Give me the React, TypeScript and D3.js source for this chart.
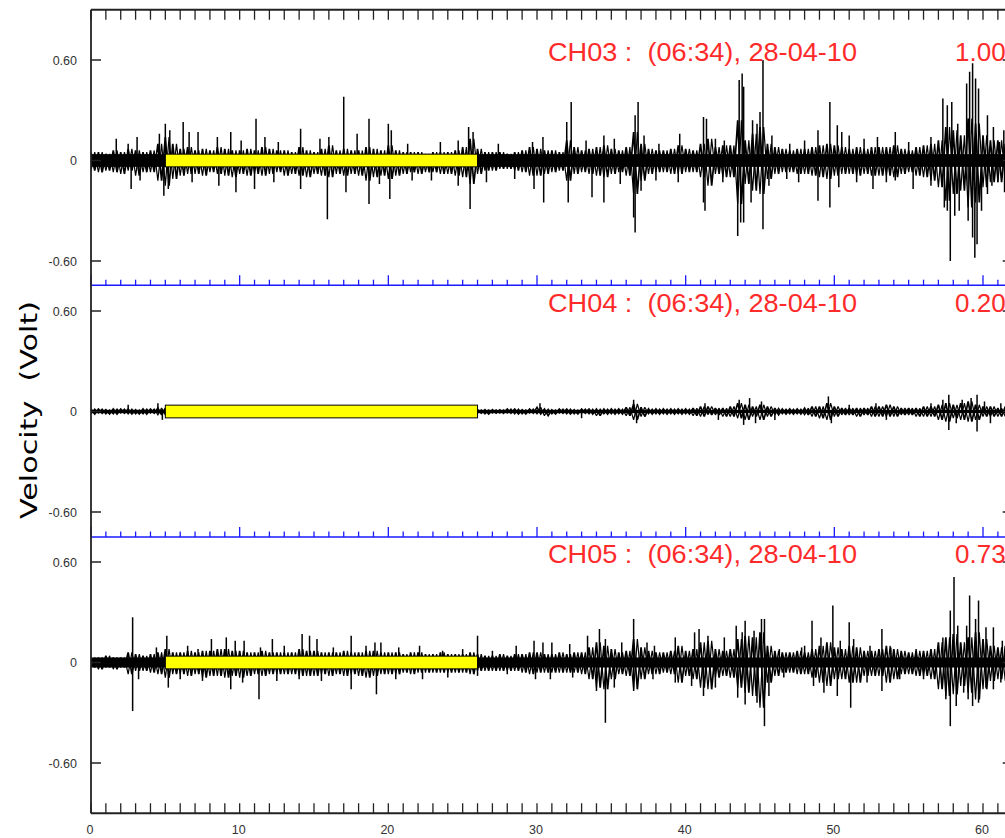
import React from 'react';
import * as d3 from 'd3';

// ---------- DATA ----------
// time axis (seconds), bins every 0.5 s from 0 to 61.5
const T_STEP = 0.5;
const xTicks = [0, 10, 20, 30, 40, 50, 60];
const yTickValues = [0.6, 0, -0.6];
const yTickLabels = ['0.60', '0', '-0.60'];
const channelNames = ['CH03 :  (06:34), 28-04-10', 'CH04 :  (06:34), 28-04-10', 'CH05 :  (06:34), 28-04-10'];
const channelScales = ['1.00', '0.20', '0.73'];
const windowStart = 5;
const windowEnd = 26;
const windowHalf = 0.038;
// solid noise floor half-height per channel (volts)
const noiseFloor = [0.038, 0.01, 0.03];

// dense core envelope (hundredths of a volt): upper and lower half-heights
const ch03Up = [
  5, 5, 4, 6, 5, 7, 6, 5, 6, 10,
  14, 10, 7, 8, 6, 7, 6, 8, 7, 6,
  6, 7, 6, 8, 7, 6, 6, 5, 8, 6,
  5, 7, 9, 6, 7, 6, 6, 8, 7, 6,
  9, 6, 5, 5, 5, 4, 5, 5, 5, 6,
  8, 13, 7, 5, 5, 5, 4, 5, 6, 8,
  7, 6, 6, 5, 12, 8, 6, 7, 8, 9,
  7, 6, 8, 17, 10, 7, 6, 6, 7, 9,
  7, 6, 10, 13, 8, 9, 9, 24, 12, 16,
  20, 10, 8, 7, 6, 7, 7, 8, 9, 10,
  9, 8, 7, 8, 7, 8, 8, 8, 9, 7,
  6, 8, 9, 10, 12, 20, 18, 15, 25, 22,
  15, 12, 12, 10,
];
const ch03Dn = [
  6, 7, 6, 7, 8, 6, 9, 7, 7, 12,
  15, 11, 9, 8, 8, 9, 7, 8, 9, 10,
  8, 9, 8, 9, 8, 7, 9, 8, 9, 10,
  8, 9, 10, 8, 9, 8, 9, 12, 10, 9,
  11, 9, 8, 7, 8, 7, 7, 8, 8, 9,
  10, 14, 8, 6, 6, 5, 5, 6, 7, 9,
  9, 8, 7, 6, 12, 8, 7, 8, 9, 10,
  8, 7, 9, 20, 12, 8, 7, 7, 8, 8,
  7, 7, 10, 15, 8, 10, 10, 26, 14, 18,
  20, 11, 8, 7, 7, 8, 8, 9, 10, 11,
  9, 8, 8, 9, 8, 9, 9, 9, 10, 8,
  7, 9, 10, 12, 16, 24, 20, 18, 28, 25,
  16, 13, 13, 11,
];
// isolated spikes [time s, volts]
const ch03Spikes = [
  [1.7, 0.13], [2.5, 0.1], [3.1, 0.14], [4.6, 0.16], [5.0, 0.22], [5.3, 0.18], [6.2, 0.23], [6.6, 0.17],
  [7.2, 0.17], [8.5, 0.14], [9.4, 0.17], [10.1, 0.12], [11.1, 0.25], [11.7, 0.14], [12.6, 0.11], [14.1, 0.19],
  [15.4, 0.13], [16.0, 0.14], [17.0, 0.38], [17.9, 0.16], [18.7, 0.25], [20.0, 0.22], [20.2, 0.18], [21.3, 0.1],
  [23.5, 0.11], [24.7, 0.12], [25.4, 0.2], [25.7, 0.17], [27.4, 0.1], [29.7, 0.11], [30.4, 0.14], [32.0, 0.23],
  [32.3, 0.35], [33.3, 0.12], [34.5, 0.15], [35.2, 0.13], [36.6, 0.27], [36.8, 0.35], [37.2, 0.15], [38.2, 0.1],
  [39.6, 0.16], [41.2, 0.26], [41.4, 0.25], [42.0, 0.13], [42.6, 0.12], [43.6, 0.48], [43.8, 0.52], [43.9, 0.44],
  [44.5, 0.24], [44.8, 0.22], [45.0, 0.29], [45.2, 0.6], [45.8, 0.15], [47.0, 0.1], [48.0, 0.12], [48.9, 0.18],
  [49.7, 0.35], [50.2, 0.21], [50.5, 0.17], [51.0, 0.15], [52.0, 0.13], [52.9, 0.14], [54.1, 0.17], [55.0, 0.11],
  [56.5, 0.14], [57.3, 0.37], [57.6, 0.33], [57.9, 0.35], [58.3, 0.22], [58.9, 0.46], [59.1, 0.53], [59.3, 0.58],
  [59.5, 0.49], [59.7, 0.43], [60.3, 0.27], [60.7, 0.2], [61.1, 0.11], [61.4, 0.18],
  [2.7, -0.17], [3.3, -0.12], [4.9, -0.21], [5.2, -0.17], [6.8, -0.13], [8.6, -0.15], [9.75, -0.19], [11.0, -0.17],
  [12.3, -0.13], [14.1, -0.17], [15.9, -0.35], [17.15, -0.19], [18.7, -0.26], [19.4, -0.14], [20.1, -0.23], [21.6, -0.12],
  [22.9, -0.12], [24.7, -0.15], [25.5, -0.29], [26.6, -0.13], [28.5, -0.11], [29.8, -0.17], [30.45, -0.25], [32.1, -0.25],
  [33.7, -0.22], [34.5, -0.25], [35.6, -0.14], [36.5, -0.34], [36.6, -0.43], [37.0, -0.18], [38.0, -0.12], [39.5, -0.13],
  [41.2, -0.25], [41.3, -0.3], [42.5, -0.13], [43.5, -0.45], [43.7, -0.37], [43.9, -0.37], [44.4, -0.25], [45.2, -0.41],
  [45.6, -0.15], [46.8, -0.11], [47.6, -0.13], [48.9, -0.24], [49.7, -0.28], [50.3, -0.16], [51.5, -0.13], [52.6, -0.17],
  [53.5, -0.13], [54.1, -0.12], [55.3, -0.17], [56.5, -0.15], [57.4, -0.28], [57.6, -0.3], [57.8, -0.6], [58.1, -0.33],
  [58.4, -0.3], [59.0, -0.36], [59.3, -0.46], [59.45, -0.58], [59.6, -0.5], [59.9, -0.3], [60.3, -0.2], [60.6, -0.15],
  [61.0, -0.13], [61.45, -0.19],
];

const ch04Up = [
  1.5, 1.5, 1, 1.5, 1.5, 1.5, 1, 1.5, 1.5, 2,
  2, 2, 2, 2, 2, 2, 2, 2, 2, 2,
  2, 2, 2, 2, 2, 2, 2, 2, 2, 2,
  2, 2, 2, 2, 2, 2, 2, 2, 2, 2,
  2, 2, 2, 2, 2, 2, 2, 2, 2, 2,
  2, 1.5, 1, 1, 1, 1, 1.5, 1.5, 1, 1.5,
  2.5, 1.5, 1, 1.5, 1.5, 1, 1.5, 1.5, 1.5, 1.5,
  1.5, 1.5, 2.5, 4.5, 2.5, 1.5, 1.5, 1.5, 1.5, 1.5,
  1.5, 2, 3, 3, 2, 2, 3, 5, 4, 3,
  4, 3, 2, 1.5, 1.5, 1.5, 2, 3, 3, 5,
  3, 2, 2, 2, 2, 3, 3, 4, 3, 2,
  2, 2, 3, 3, 4, 5, 4, 5, 6, 4,
  3, 3, 2, 3,
];
const ch04Dn = [
  1.5, 1, 1.5, 1.5, 1, 1.5, 1.5, 1.5, 1, 2,
  2, 2, 2, 2, 2, 2, 2, 2, 2, 2,
  2, 2, 2, 2, 2, 2, 2, 2, 2, 2,
  2, 2, 2, 2, 2, 2, 2, 2, 2, 2,
  2, 2, 2, 2, 2, 2, 2, 2, 2, 2,
  2, 1.5, 1, 1.5, 1, 1, 1, 1.5, 1.5, 1,
  1.5, 2.5, 1.5, 1, 1.5, 1.5, 1, 1.5, 2.5, 1.5,
  1.5, 1.5, 2.5, 5, 3, 1.5, 1.5, 1.5, 1.5, 1.5,
  1.5, 2.5, 3, 2, 2, 3, 3, 4, 5, 3,
  5, 3, 2, 1.5, 1.5, 1.5, 2, 3, 4, 5,
  3, 2, 2, 3, 2, 3, 3, 3, 3, 2,
  2, 3, 3, 3, 5, 6, 4, 5, 6, 5,
  3, 3, 3, 3,
];
const ch04Spikes = [
  [2.5, 0.04], [4.5, 0.05], [4.8, -0.05], [30.2, 0.05], [33.0, -0.04], [36.5, 0.07], [36.7, -0.07], [41.3, 0.05],
  [42.2, -0.05], [43.6, 0.07], [43.9, -0.08], [44.3, 0.08], [44.7, -0.07], [45.1, 0.06], [46.0, -0.05], [49.6, 0.09],
  [49.8, -0.07], [51.0, 0.04], [52.8, 0.05], [53.5, -0.05], [56.5, 0.05], [57.3, 0.07], [57.7, 0.1], [57.7, -0.11],
  [58.2, -0.07], [58.6, 0.07], [59.2, 0.08], [59.6, 0.1], [59.6, -0.12], [60.1, 0.06], [60.5, -0.07], [61.2, 0.05],
];

const ch05Up = [
  3, 3, 4, 3, 3, 6, 5, 4, 5, 6,
  8, 6, 6, 7, 6, 7, 7, 8, 8, 7,
  7, 6, 6, 7, 6, 6, 6, 6, 8, 7,
  7, 6, 6, 6, 7, 6, 6, 7, 7, 6,
  6, 6, 5, 6, 6, 5, 5, 6, 5, 5,
  5, 6, 5, 4, 4, 5, 4, 5, 5, 6,
  6, 5, 5, 6, 5, 6, 6, 9, 12, 10,
  8, 6, 7, 14, 9, 7, 6, 6, 7, 10,
  7, 8, 12, 13, 8, 7, 8, 14, 16, 15,
  18, 10, 7, 6, 6, 7, 6, 8, 10, 12,
  9, 8, 10, 9, 7, 7, 8, 10, 8, 7,
  6, 7, 7, 8, 12, 15, 17, 12, 15, 18,
  14, 10, 9, 10,
];
const ch05Dn = [
  3, 4, 3, 4, 3, 7, 5, 5, 6, 7,
  9, 7, 7, 8, 7, 9, 8, 8, 9, 8,
  9, 8, 7, 8, 7, 7, 7, 7, 8, 8,
  8, 7, 8, 7, 8, 7, 8, 9, 8, 7,
  7, 7, 6, 7, 6, 6, 6, 6, 6, 6,
  6, 7, 5, 5, 5, 5, 5, 5, 6, 7,
  6, 6, 6, 6, 6, 6, 7, 10, 15, 16,
  10, 7, 8, 16, 10, 7, 7, 6, 7, 12,
  8, 10, 15, 16, 9, 8, 9, 15, 18, 20,
  27, 12, 8, 6, 6, 7, 7, 9, 12, 14,
  10, 10, 12, 12, 8, 8, 8, 12, 10, 7,
  7, 8, 8, 10, 16, 20, 19, 14, 18, 22,
  16, 11, 10, 11,
];
const ch05Spikes = [
  [2.8, 0.27], [4.4, 0.09], [5.1, 0.16], [6.5, 0.1], [7.2, 0.08], [8.1, 0.14], [9.1, 0.15], [9.7, 0.13],
  [10.3, 0.13], [11.4, 0.09], [12.2, 0.14], [13.0, 0.1], [14.2, 0.17], [14.7, 0.16], [15.2, 0.14], [16.3, 0.09],
  [17.5, 0.16], [18.5, 0.1], [19.1, 0.12], [19.5, 0.12], [20.7, 0.09], [22.1, 0.1], [23.65, 0.07], [25.0, 0.08],
  [26.0, 0.16], [27.0, 0.07], [28.6, 0.1], [29.8, 0.13], [30.4, 0.12], [31.0, 0.12], [32.2, 0.11], [33.4, 0.16],
  [34.2, 0.2], [34.6, 0.14], [35.7, 0.12], [36.5, 0.26], [37.4, 0.12], [37.9, 0.1], [39.3, 0.15], [40.6, 0.18],
  [40.9, 0.2], [41.5, 0.16], [42.6, 0.15], [43.4, 0.22], [43.8, 0.18], [44.0, 0.25], [44.6, 0.19], [45.1, 0.26],
  [45.3, 0.26], [46.3, 0.08], [47.8, 0.09], [48.0, 0.1], [48.5, 0.25], [49.1, 0.15], [49.9, 0.34], [50.4, 0.13],
  [51.0, 0.24], [51.3, 0.14], [52.4, 0.1], [53.2, 0.2], [53.8, 0.09], [55.5, 0.08], [57.3, 0.15], [57.8, 0.31],
  [58.05, 0.51], [58.3, 0.22], [58.9, 0.22], [59.1, 0.4], [59.5, 0.26], [59.7, 0.37], [60.2, 0.21], [60.7, 0.21],
  [61.3, 0.13],
  [2.8, -0.29], [3.2, -0.1], [5.2, -0.15], [6.0, -0.1], [7.5, -0.11], [9.4, -0.16], [10.2, -0.12], [11.3, -0.22],
  [12.5, -0.11], [14.0, -0.1], [15.5, -0.11], [17.5, -0.16], [19.2, -0.19], [20.5, -0.1], [22.3, -0.1], [24.0, -0.09],
  [26.0, -0.08], [28.0, -0.07], [29.9, -0.1], [30.9, -0.1], [32.4, -0.09], [34.0, -0.17], [34.6, -0.36], [35.2, -0.15],
  [36.5, -0.17], [37.8, -0.1], [39.3, -0.12], [40.4, -0.14], [41.2, -0.2], [42.0, -0.15], [43.5, -0.21], [44.0, -0.25],
  [44.8, -0.24], [45.3, -0.38], [45.6, -0.2], [46.6, -0.09], [48.6, -0.14], [49.3, -0.18], [50.2, -0.2], [51.1, -0.27],
  [52.2, -0.12], [53.2, -0.17], [54.4, -0.1], [56.0, -0.1], [57.5, -0.22], [57.8, -0.38], [58.2, -0.26], [58.7, -0.18],
  [59.0, -0.22], [59.3, -0.26], [59.7, -0.24], [60.2, -0.15], [60.7, -0.16], [61.2, -0.12],
];

const coreUps = [ch03Up, ch04Up, ch05Up];
const coreDns = [ch03Dn, ch04Dn, ch05Dn];
const spikeSets = [ch03Spikes, ch04Spikes, ch05Spikes];

// ---------- LAYOUT ----------
const W = 1005;
const H = 838;
const panelCenters = [160.5, 411.5, 662.5];
const halfSpan = 100.5; // pixels for 0.60 V

const x = d3.scaleLinear().domain([0, 60]).range([91, 983]);
const yScales = panelCenters.map((c) => d3.scaleLinear().domain([-0.6, 0.6]).range([c + halfSpan, c - halfSpan]));

const frameTop = yScales[0](0.9);
const frameBottom = yScales[2](-0.9);
const frameLeft = x(0);
const frameRight = x(62);
const separators = [(panelCenters[0] + panelCenters[1]) / 2 - 0.8, (panelCenters[1] + panelCenters[2]) / 2];
const minorTicks = d3.range(0, 63, 1);
const labelFont = 'Liberation Sans, Arial, sans-serif';

type P = [number, number];

function Panel({ p }: { p: number }) {
  const y = yScales[p];
  const up = coreUps[p];
  const dn = coreDns[p];
  const line = d3.line<P>().x((d) => x(d[0])).y((d) => y(d[1]));
  const zigA: P[] = [];
  const zigB: P[] = [];
  up.forEach((v, i) => {
    const t = i * T_STEP;
    zigA.push([t, v / 100]);
    zigA.push([t + T_STEP / 2, -dn[i] / 100]);
    zigB.push([t, -dn[i] / 100]);
    zigB.push([t + T_STEP / 2, v / 100]);
  });
  const lastT = (up.length - 1) * T_STEP + T_STEP / 2;
  const nf = noiseFloor[p];
  return (
    <g>
      <rect x={x(0)} y={y(nf)} width={x(lastT) - x(0)} height={y(-nf) - y(nf)} fill="#000" />
      <path d={line(zigA)!} fill="none" stroke="#000" strokeWidth={1.7} strokeLinejoin="miter" strokeMiterlimit={2} />
      <path d={line(zigB)!} fill="none" stroke="#000" strokeWidth={1.2} strokeLinejoin="miter" strokeMiterlimit={2} />
      {spikeSets[p].map((s, i) => (
        <line key={i} x1={x(s[0])} x2={x(s[0])} y1={y(0)} y2={y(s[1])} stroke="#000" strokeWidth={1.5} />
      ))}
      <rect
        x={x(windowStart)}
        y={y(windowHalf)}
        width={x(windowEnd) - x(windowStart)}
        height={y(-windowHalf) - y(windowHalf)}
        fill="#ffff00"
        stroke="#000"
        strokeWidth={1}
      />
      {yTickValues.map((v, i) => (
        <line key={i} x1={frameRight - 10} x2={frameRight} y1={y(v)} y2={y(v)} stroke="#222" strokeWidth={1.5} />
      ))}
      <text x={548} y={y(0.6) + 1} fontFamily={labelFont} fontSize={26} fill="#ff2a2a" textLength={309} lengthAdjust="spacingAndGlyphs" style={{ whiteSpace: 'pre' }}>
        {channelNames[p]}
      </text>
      <text x={955} y={y(0.6) + 1} fontFamily={labelFont} fontSize={26} fill="#ff2a2a">
        {channelScales[p]}
      </text>
    </g>
  );
}

export default function App() {
  return (
    <svg width={W} height={H} style={{ position: 'absolute', left: 0, top: 0, background: '#fff' }}>
      <rect x={0} y={0} width={W} height={H} fill="#fff" />
      <clipPath id="plotclip">
        <rect x={frameLeft} y={frameTop} width={frameRight - frameLeft} height={frameBottom - frameTop} />
      </clipPath>
      <g clipPath="url(#plotclip)">
        {[0, 1, 2].map((p) => (
          <Panel key={p} p={p} />
        ))}
      </g>
      {[0, 1, 2].map((p) =>
        yTickValues.map((v, i) => (
          <g key={`${p}-${i}`}>
            <line x1={frameLeft} x2={frameLeft + 10} y1={yScales[p](v)} y2={yScales[p](v)} stroke="#222" strokeWidth={1.5} />
            <text x={77} y={yScales[p](v) + 4.5} textAnchor="end" fontFamily={labelFont} fontSize={12.5} fill="#333">
              {yTickLabels[i]}
            </text>
          </g>
        ))
      )}
      {separators.map((sy, k) => (
        <g key={k}>
          <line x1={frameLeft} x2={frameRight} y1={sy} y2={sy} stroke="#1a1aff" strokeWidth={1.6} />
          {minorTicks.map((t) => (
            <line key={t} x1={x(t)} x2={x(t)} y1={sy} y2={sy - (t % 10 === 0 ? 10 : 5.5)} stroke="#1a1aff" strokeWidth={1.3} />
          ))}
        </g>
      ))}
      <line x1={frameLeft} x2={frameRight} y1={frameTop} y2={frameTop} stroke="#222" strokeWidth={1.8} />
      <line x1={frameLeft} x2={frameRight} y1={frameBottom} y2={frameBottom} stroke="#222" strokeWidth={1.8} />
      <line x1={frameLeft} x2={frameLeft} y1={frameTop} y2={frameBottom} stroke="#222" strokeWidth={1.8} />
      {minorTicks.map((t) => (
        <g key={t}>
          <line x1={x(t)} x2={x(t)} y1={frameTop} y2={frameTop + 10} stroke="#222" strokeWidth={1.3} />
          <line x1={x(t)} x2={x(t)} y1={frameBottom} y2={frameBottom - 10} stroke="#222" strokeWidth={1.3} />
        </g>
      ))}
      {xTicks.map((t) => (
        <text key={t} x={x(t) - 1} y={frameBottom + 21} textAnchor="middle" fontFamily={labelFont} fontSize={12.5} fill="#333">
          {t}
        </text>
      ))}
      <text
        transform={`translate(37, 410) rotate(-90)`}
        textAnchor="middle"
        fontFamily="DejaVu Sans, sans-serif"
        fontSize={23}
        fill="#000"
        textLength={218}
        lengthAdjust="spacingAndGlyphs"
        style={{ whiteSpace: 'pre' }}
      >
        Velocity  (Volt)
      </text>
    </svg>
  );
}
